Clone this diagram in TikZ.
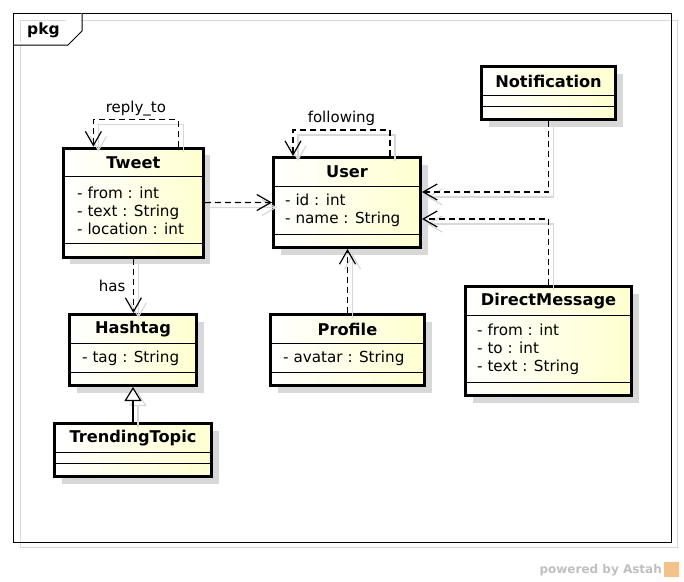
\documentclass[tikz,border=0pt]{standalone}
\usepackage{fontspec}
\setmainfont{DejaVu Sans}
\usetikzlibrary{arrows.meta,shadows,positioning}
\definecolor{clsfill}{RGB}{255,255,208}
\definecolor{shadowgray}{RGB}{216,216,216}
\definecolor{astahorange}{RGB}{244,192,140}

\begin{document}
\begin{tikzpicture}[x=1pt,y=-1pt,
  cls/.style={draw, line width=3pt, rectangle, inner sep=0pt,
    left color=white, right color=clsfill,
    drop shadow={shadow xshift=7pt, shadow yshift=-7pt, fill=shadowgray, opacity=1}},
  clsname/.style={font=\bfseries\fontsize{16.2}{19}\selectfont},
  attrs/.style={font=\fontsize{15.2}{18}\selectfont, align=left, anchor=west, inner sep=0pt},
  lbl/.style={font=\fontsize{15}{18}\selectfont},
  compart/.style={line width=0.8pt},
  dep/.style={draw, line width=1.2pt, dash pattern=on 6pt off 4pt,
    -{Straight Barb[length=14pt,width=16pt]}},
  gen/.style={draw, line width=1.2pt, -{Triangle[open, length=14pt, width=17pt, fill=white]}},
  lineshadow/.style={draw=shadowgray, line width=1.2pt, transform canvas={xshift=5pt,yshift=-5pt}}]

% package frame
\useasboundingbox (0,0) rectangle (684,581);
\draw[shadowgray, line width=1pt] (20.7,20.7) rectangle (677.3,547.3);
\draw[line width=1pt] (13.3,13.3) rectangle (671.7,542.3);
\draw[line width=1pt, fill=white] (13.3,45) -- (68,45) -- (82,31) -- (82,13.3);
\node[font=\bfseries\fontsize{15.5}{18}\selectfont, anchor=base west, inner sep=0pt] (pkg) at (27,34) {pkg};

% classes
\node[cls, minimum width=140pt, minimum height=109pt] (tweet) at (133.4,202.6) {};
\node[cls, minimum width=147pt, minimum height=90pt] (user) at (347,202.5) {};
\node[cls, minimum width=134pt, minimum height=53pt] (notif) at (548.5,93) {};
\node[cls, minimum width=127pt, minimum height=71pt] (hashtag) at (133,350) {};
\node[cls, minimum width=157pt, minimum height=53pt] (trend) at (133,450) {};
\node[cls, minimum width=154pt, minimum height=71pt] (profile) at (347.5,350) {};
\node[cls, minimum width=166pt, minimum height=109pt] (dm) at (548.5,341) {};

\foreach \c in {tweet,user,notif,hashtag,trend,profile,dm} {
  \draw[compart] ([yshift=-30pt]\c.north west) -- ([yshift=-30pt]\c.north east);
  \draw[compart] ([yshift=15pt]\c.south west) -- ([yshift=15pt]\c.south east);
}

\node[clsname] (tweet-t) at ([yshift=-16pt]tweet.north) {Tweet};
\node[clsname] (user-t) at ([yshift=-16pt]user.north) {User};
\node[clsname] (notif-t) at ([yshift=-16pt]notif.north) {Notification};
\node[clsname] (hashtag-t) at ([yshift=-16pt]hashtag.north) {Hashtag};
\node[clsname] (trend-t) at ([yshift=-16pt]trend.north) {TrendingTopic};
\node[clsname] (profile-t) at ([yshift=-16pt]profile.north) {Profile};
\node[clsname] (dm-t) at ([yshift=-16pt]dm.north) {DirectMessage};

\node[attrs] (tweet-a) at (77,210.5) {- from : int\\- text : String\\- location : int};
\node[attrs] (user-a) at (285,210.5) {- id : int\\- name : String};
\node[attrs] (hashtag-a) at (82,358) {- tag : String};
\node[attrs] (profile-a) at (283,358) {- avatar : String};
\node[attrs] (dm-a) at (477,349) {- from : int\\- to : int\\- text : String};

% connector shadows
\draw[lineshadow, -{Straight Barb[length=14pt,width=16pt]}] (tweet.east) -- (user.west);
\draw[lineshadow, -{Straight Barb[length=14pt,width=16pt]}] ([xshift=45pt]tweet.north) -- ++(0,-27) -| ([xshift=-40pt]tweet.north);
\draw[lineshadow, -{Straight Barb[length=14pt,width=16pt]}] ([xshift=43pt]user.north) -- ++(0,-26) -| ([xshift=-54pt]user.north);
\draw[lineshadow, -{Straight Barb[length=14pt,width=16pt]}] (notif.south) |- ([yshift=10.5pt]user.east);
\draw[lineshadow, -{Straight Barb[length=14pt,width=16pt]}] (dm.north) |- ([yshift=-16.5pt]user.east);
\draw[lineshadow, -{Straight Barb[length=14pt,width=16pt]}] (profile.north) -- (profile.north |- user.south);
\draw[lineshadow, -{Straight Barb[length=14pt,width=16pt]}] (tweet.south) -- (tweet.south |- hashtag.north);
\draw[lineshadow, -{Triangle[open, length=14pt, width=17pt]}] (trend.north) -- (trend.north |- hashtag.south);

% connectors
\draw[dep] (tweet.east) -- (user.west);
\draw[dep] ([xshift=45pt]tweet.north) -- ++(0,-27) -| node[lbl, pos=0.25, above] {reply\_to} ([xshift=-40pt]tweet.north);
\draw[dep] ([xshift=43pt]user.north) -- ++(0,-26) -| node[lbl, pos=0.25, above] {following} ([xshift=-54pt]user.north);
\draw[dep] (notif.south) |- ([yshift=10.5pt]user.east);
\draw[dep] (dm.north) |- ([yshift=-16.5pt]user.east);
\draw[dep] (profile.north) -- (profile.north |- user.south);
\draw[dep] (tweet.south) -- node[lbl, left, xshift=-4pt] {has} (tweet.south |- hashtag.north);
\draw[gen] (trend.north) -- (trend.north |- hashtag.south);

% footer
\node[font=\bfseries\fontsize{12}{14}\selectfont, text=black!25, anchor=base east, inner sep=0pt] (astah) at (662,573) {powered by Astah};
\node[fill=astahorange, minimum size=15pt, inner sep=0pt, right=2pt of astah.east, anchor=west] (astah-logo) {};
\end{tikzpicture}
\end{document}
